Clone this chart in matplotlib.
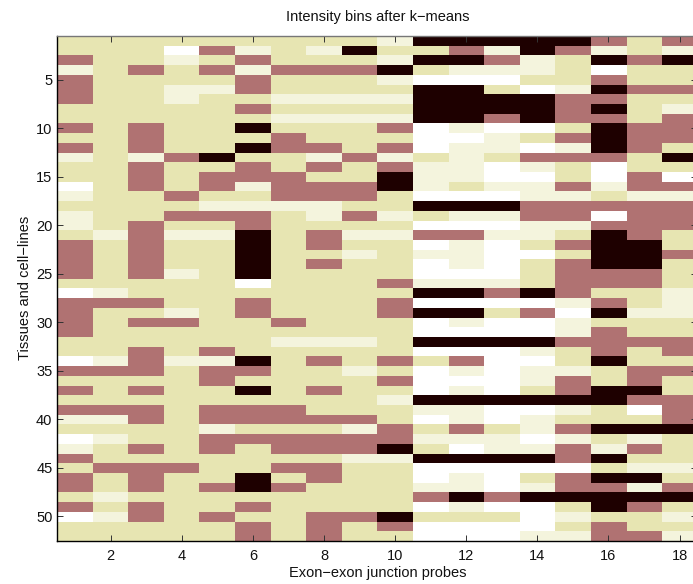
import numpy as np
import matplotlib
matplotlib.use('Agg')
import matplotlib.pyplot as plt
from matplotlib.colors import ListedColormap

# bin index per tissue (row) and probe (column): 1 = darkest ... 5 = white
bins = [
    [3, 3, 3, 3, 3, 3, 3, 3, 3, 4, 1, 1, 1, 1, 1, 2, 3, 2],
    [3, 3, 3, 5, 2, 4, 3, 4, 1, 3, 3, 2, 4, 1, 2, 4, 3, 4],
    [2, 3, 3, 4, 3, 2, 3, 3, 3, 4, 1, 1, 2, 4, 3, 1, 2, 1],
    [4, 3, 2, 3, 2, 4, 2, 2, 2, 1, 3, 4, 4, 4, 3, 5, 3, 3],
    [2, 3, 3, 3, 3, 2, 3, 3, 3, 4, 5, 5, 5, 3, 3, 2, 3, 3],
    [2, 3, 3, 4, 4, 2, 3, 3, 3, 3, 1, 1, 3, 5, 4, 1, 2, 2],
    [2, 3, 3, 4, 3, 3, 4, 4, 4, 4, 1, 1, 1, 1, 2, 2, 3, 3],
    [3, 3, 3, 3, 3, 2, 3, 3, 3, 3, 1, 1, 1, 1, 2, 1, 3, 4],
    [3, 3, 3, 3, 3, 3, 4, 4, 4, 4, 1, 1, 2, 1, 2, 2, 3, 2],
    [2, 3, 2, 3, 3, 1, 3, 3, 3, 2, 5, 4, 5, 5, 3, 1, 2, 2],
    [3, 3, 2, 3, 3, 3, 2, 3, 3, 3, 5, 5, 4, 3, 2, 1, 2, 2],
    [2, 3, 2, 3, 3, 1, 2, 2, 3, 2, 5, 4, 4, 5, 4, 1, 2, 3],
    [4, 3, 4, 2, 1, 3, 3, 4, 2, 4, 3, 4, 3, 2, 2, 2, 3, 1],
    [3, 3, 2, 3, 3, 2, 3, 2, 3, 2, 4, 4, 5, 4, 3, 5, 3, 3],
    [3, 3, 2, 3, 2, 2, 2, 3, 3, 1, 4, 4, 5, 5, 3, 5, 2, 5],
    [5, 3, 2, 3, 2, 4, 2, 2, 2, 1, 4, 3, 4, 4, 2, 4, 2, 2],
    [4, 3, 3, 2, 3, 3, 2, 2, 2, 3, 5, 5, 5, 4, 4, 3, 4, 4],
    [3, 3, 3, 3, 4, 4, 4, 4, 3, 3, 1, 1, 1, 2, 2, 2, 2, 2],
    [4, 3, 3, 2, 2, 2, 3, 4, 2, 4, 3, 4, 4, 2, 2, 5, 2, 2],
    [4, 3, 2, 3, 3, 2, 3, 3, 3, 3, 5, 5, 5, 4, 4, 2, 2, 2],
    [3, 4, 2, 4, 4, 1, 3, 2, 4, 4, 2, 2, 4, 4, 3, 1, 2, 3],
    [2, 3, 2, 3, 3, 1, 3, 2, 3, 3, 5, 4, 5, 3, 2, 1, 1, 3],
    [2, 3, 2, 3, 3, 1, 3, 3, 4, 3, 4, 4, 5, 5, 3, 1, 1, 2],
    [2, 3, 2, 3, 3, 1, 3, 2, 3, 3, 5, 4, 5, 3, 2, 1, 1, 3],
    [2, 3, 2, 4, 3, 1, 3, 3, 3, 3, 5, 5, 5, 3, 2, 2, 2, 3],
    [3, 3, 3, 3, 3, 5, 3, 3, 3, 2, 4, 4, 4, 3, 2, 2, 2, 3],
    [5, 4, 3, 3, 3, 3, 3, 3, 3, 3, 1, 1, 2, 1, 2, 3, 3, 4],
    [2, 2, 2, 3, 3, 2, 3, 3, 3, 2, 5, 5, 5, 5, 4, 2, 3, 4],
    [2, 3, 3, 4, 3, 2, 3, 3, 3, 2, 1, 1, 3, 2, 5, 1, 4, 4],
    [2, 3, 2, 2, 3, 3, 2, 3, 3, 3, 5, 4, 5, 5, 4, 3, 3, 3],
    [2, 3, 3, 3, 3, 3, 3, 3, 3, 3, 5, 5, 5, 5, 4, 2, 3, 3],
    [3, 3, 3, 3, 3, 3, 4, 4, 4, 3, 1, 1, 1, 1, 2, 2, 2, 2],
    [3, 3, 2, 3, 2, 3, 3, 3, 3, 3, 5, 5, 5, 4, 3, 2, 3, 2],
    [5, 4, 2, 4, 4, 1, 3, 2, 3, 2, 3, 2, 5, 5, 3, 1, 3, 3],
    [2, 2, 2, 3, 2, 2, 3, 3, 4, 3, 5, 4, 5, 4, 4, 3, 2, 2],
    [3, 3, 3, 3, 2, 3, 3, 3, 3, 2, 5, 5, 5, 4, 2, 3, 2, 3],
    [2, 3, 2, 3, 3, 1, 3, 2, 3, 3, 5, 4, 5, 3, 2, 1, 1, 3],
    [3, 3, 3, 3, 3, 3, 3, 3, 3, 4, 1, 1, 1, 1, 1, 1, 2, 2],
    [2, 2, 2, 3, 2, 2, 2, 3, 3, 3, 4, 4, 5, 5, 4, 3, 5, 2],
    [4, 4, 2, 3, 2, 2, 2, 2, 2, 3, 5, 4, 5, 4, 3, 3, 3, 2],
    [3, 3, 3, 3, 4, 3, 3, 3, 4, 2, 3, 2, 3, 4, 2, 1, 1, 1],
    [5, 4, 3, 3, 2, 2, 2, 2, 2, 2, 4, 4, 4, 5, 4, 3, 4, 3],
    [4, 3, 2, 3, 2, 3, 2, 2, 2, 1, 3, 5, 4, 4, 2, 4, 2, 3],
    [2, 3, 3, 3, 3, 3, 3, 3, 4, 4, 1, 1, 1, 1, 2, 1, 3, 3],
    [3, 2, 2, 2, 3, 3, 2, 2, 3, 3, 5, 5, 5, 5, 5, 3, 4, 4],
    [2, 3, 2, 3, 3, 1, 3, 2, 3, 3, 5, 4, 5, 3, 2, 1, 1, 3],
    [2, 3, 2, 3, 2, 1, 2, 3, 3, 3, 4, 4, 5, 4, 2, 2, 4, 2],
    [3, 4, 3, 3, 3, 3, 3, 3, 3, 3, 2, 1, 2, 1, 1, 1, 1, 1],
    [2, 3, 2, 3, 3, 2, 3, 3, 3, 3, 5, 4, 5, 5, 3, 1, 2, 3],
    [5, 4, 2, 3, 2, 3, 3, 2, 2, 1, 3, 3, 3, 5, 4, 3, 3, 4],
    [3, 3, 3, 3, 3, 2, 3, 2, 3, 2, 5, 5, 5, 5, 3, 2, 3, 3],
    [3, 3, 3, 3, 3, 2, 3, 2, 3, 3, 5, 5, 5, 4, 4, 2, 2, 4],
]
bin_colors = ['#1e0000', '#b07272', '#e7e5b2', '#f4f4dd', '#ffffff']
x_ticks = [2, 4, 6, 8, 10, 12, 14, 16, 18]
y_ticks = [5, 10, 15, 20, 25, 30, 35, 40, 45, 50]

plt.rcParams['font.family'] = ['Liberation Sans', 'DejaVu Sans']
plt.rcParams['font.size'] = 10.5

data = np.array(bins)
n_rows, n_cols = data.shape

fig = plt.figure(figsize=(6.93, 5.84), dpi=100)
ax = fig.add_axes([0.0827, 0.0741, 0.9236, 0.8643])
cmap = ListedColormap(bin_colors)
ax.imshow(data, cmap=cmap, vmin=0.5, vmax=5.5, aspect='auto',
          interpolation='nearest',
          extent=(0.5, n_cols + 0.5, n_rows + 0.5, 0.5))

ax.set_xticks(x_ticks)
ax.set_yticks(y_ticks)
ax.tick_params(direction='in', length=4, width=0.7, color='#333333',
               top=True, right=True, labelcolor='#111111')
ax.tick_params(axis='x', pad=6)
ax.tick_params(axis='y', pad=3.5)
for s in ax.spines.values():
    s.set_linewidth(1.0)
ax.spines['top'].set_color('#777777')

ax.set_title('Intensity bins after k\u2212means', fontsize=10.5, pad=11, color='#111111')
ax.set_xlabel('Exon\u2212exon junction probes', labelpad=2, color='#111111')
ax.set_ylabel('Tissues and cell\u2212lines', labelpad=3, color='#111111')

fig.savefig('out.png', dpi=100)
